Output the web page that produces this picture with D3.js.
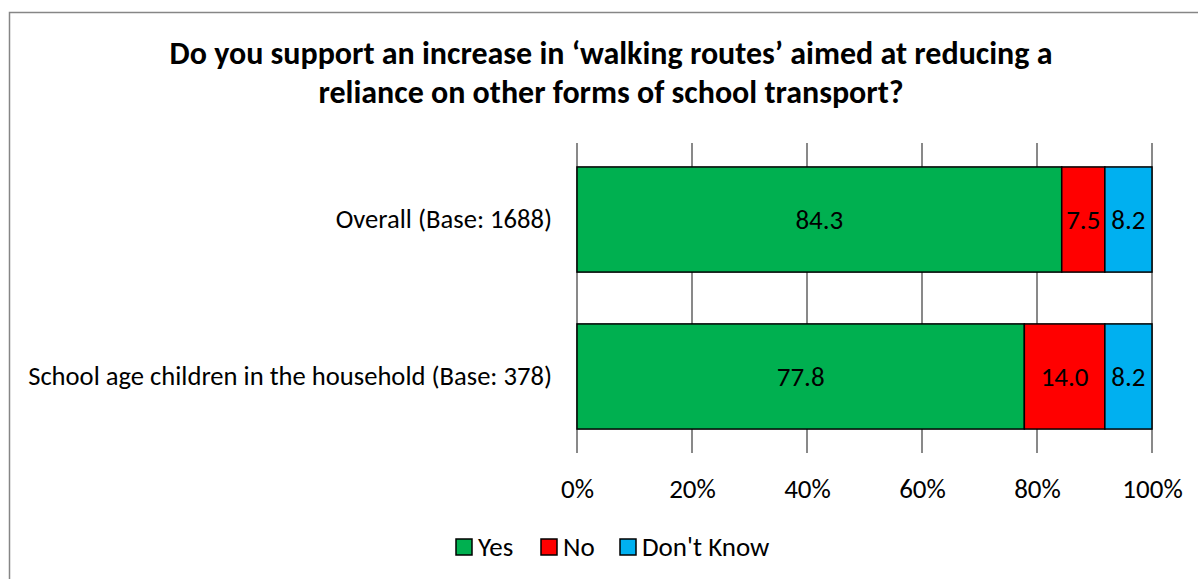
<!DOCTYPE html>
<html>
<head>
<meta charset="utf-8">
<script src="https://cdn.jsdelivr.net/npm/d3@7"></script>
<style>
  body { margin: 0; background: #fff; }
  svg text { font-family: Carlito, Calibri, Lato, "Open Sans", sans-serif; }
</style>
</head>
<body>
<div id="chart"></div>
<script>
// data
const categories = ["Overall (Base: 1688)", "School age children in the household (Base: 378)"];
const seriesNames = ["Yes", "No", "Don't Know"];
const yesValues = [84.3, 77.8];
const noValues = [7.5, 14.0];
const dontKnowValues = [8.2, 8.2];
const tickValues = [0, 20, 40, 60, 80, 100];
const titleLines = [
  "Do you support an increase in \u2018walking routes\u2019 aimed at reducing a",
  "reliance on other forms of school transport?"
];
const colors = ["#00B050", "#FF0000", "#00B0F0"];

const width = 1198, height = 579;
const margin = { top: 143, right: 46, bottom: 126, left: 577 };
const innerW = width - margin.left - margin.right;
const innerH = height - margin.top - margin.bottom;
const fontSize = 27;
const fontFam = "Carlito, Calibri, Lato, 'Open Sans', sans-serif";

const svg = d3.select("#chart").append("svg")
  .attr("width", width)
  .attr("height", height);

// outer chart border
svg.append("rect")
  .attr("x", 9.5).attr("y", 12.5)
  .attr("width", 1200).attr("height", 600)
  .attr("fill", "none")
  .attr("stroke", "#868686")
  .attr("stroke-width", 1.5);

// title
svg.append("g").selectAll("text")
  .data(titleLines)
  .join("text")
  .attr("x", 611)
  .attr("y", (d, i) => 64 + i * 39)
  .attr("text-anchor", "middle")
  .attr("font-size", 32)
  .attr("font-weight", "bold")
  .text(d => d);

const g = svg.append("g")
  .attr("transform", `translate(${margin.left},${margin.top})`);

const x = d3.scaleLinear().domain([0, 100]).range([0, innerW]);
const y = d3.scaleBand().domain(categories).range([0, innerH]).paddingInner(0.33).paddingOuter(0.1525);

// vertical gridlines
g.append("g")
  .selectAll("line")
  .data(tickValues)
  .join("line")
  .attr("x1", d => x(d)).attr("x2", d => x(d))
  .attr("y1", 0).attr("y2", innerH)
  .attr("stroke", "#898989")
  .attr("stroke-width", 2);

// x axis labels
const xAxis = d3.axisBottom(x).tickValues(tickValues).tickFormat(d => d + "%").tickSize(0).tickPadding(26);
const xg = g.append("g").attr("transform", `translate(0,${innerH})`).call(xAxis);
xg.select(".domain").remove();
xg.selectAll("text").attr("font-size", fontSize).attr("fill", "#000")
  .style("font-family", fontFam);

// y axis labels
const yAxis = d3.axisLeft(y).tickSize(0).tickPadding(25);
const yg = g.append("g").call(yAxis);
yg.select(".domain").remove();
yg.selectAll("text").attr("font-size", 26.6).attr("fill", "#000")
  .style("font-family", fontFam);

// stacked data
const rows = categories.map((c, i) => ({ cat: c, "Yes": yesValues[i], "No": noValues[i], "Don't Know": dontKnowValues[i] }));
const stacked = d3.stack().keys(seriesNames)(rows);

const layers = g.append("g").selectAll("g")
  .data(stacked)
  .join("g")
  .attr("fill", (d, i) => colors[i]);

layers.selectAll("rect")
  .data(d => d)
  .join("rect")
  .attr("x", d => x(d[0]))
  .attr("y", d => y(d.data.cat))
  .attr("width", d => x(d[1]) - x(d[0]))
  .attr("height", y.bandwidth())
  .attr("stroke", "#000")
  .attr("stroke-width", 1.5);

layers.selectAll("text")
  .data(d => d.map(v => ({ v, key: d.key })))
  .join("text")
  .attr("x", d => (x(d.v[0]) + x(d.v[1])) / 2)
  .attr("y", d => y(d.v.data.cat) + y.bandwidth() / 2)
  .attr("dy", "0.35em")
  .attr("text-anchor", "middle")
  .attr("font-size", fontSize)
  .attr("fill", "#000")
  .text(d => d.v.data[d.key].toFixed(1));

// legend
const legendX = [456, 541, 620];
const legend = svg.append("g").selectAll("g")
  .data(seriesNames)
  .join("g")
  .attr("transform", (d, i) => `translate(${legendX[i]},539)`);
legend.append("rect")
  .attr("width", 16).attr("height", 16)
  .attr("fill", (d, i) => colors[i])
  .attr("stroke", "#000").attr("stroke-width", 1.5);
legend.append("text")
  .attr("x", 22).attr("y", 8).attr("dy", "0.35em")
  .attr("font-size", fontSize)
  .text(d => d);
</script>
</body>
</html>
